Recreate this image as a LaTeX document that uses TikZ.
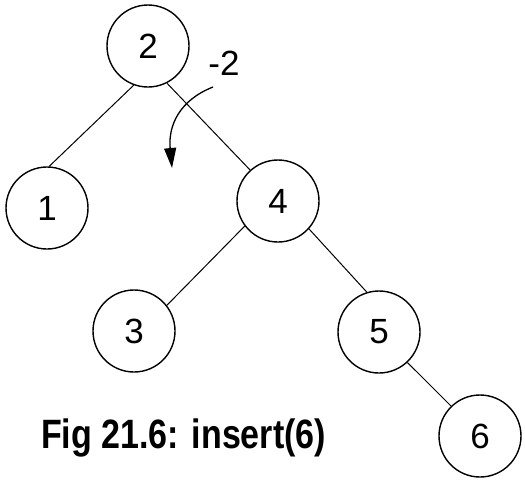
\documentclass[tikz,border=0pt]{standalone}
\usepackage{fontspec}
\setmainfont{Liberation Sans}
\usepackage{tikz}
\usetikzlibrary{arrows.meta, positioning}

\tikzset{
    treenode/.style={circle, draw, line width=1.4pt, minimum size=82pt, inner sep=0pt,
        font=\fontsize{35}{35}\selectfont},
    treeedge/.style={line width=1pt}
}

\begin{document}
\begin{tikzpicture}[x=1pt, y=-1pt]
        \useasboundingbox (0,0) rectangle (525,480);

        % Tree nodes
        \node[treenode] (n2) at (148,46) {2};
        \node[treenode] (n1) at (47,208) {1};
        \node[treenode] (n4) at (278,201) {4};
        \node[treenode] (n3) at (134,331) {3};
        \node[treenode] (n5) at (379,332) {5};
        \node[treenode] (n6) at (480,436) {6};

        % Edges
        \draw[treeedge] (n2.250) -- (n1.87);
        \draw[treeedge] (n2.297) -- (n4.132);
        \draw[treeedge] (n4.217) -- (n3.38);
        \draw[treeedge] (n4.318) -- (n5.107);
        \draw[treeedge] (n5.313) -- (n6.134);

        % Balance factor and rotation arrow
        \node[font=\fontsize{35}{35}\selectfont] (bal) at (224,63) {-2};
        \coordinate (rotStart) at (213,87);
        \coordinate (rotEnd) at (172,168);
        \draw[line width=1.3pt, -{Triangle[length=20pt, width=12pt]}]
            (rotStart) .. controls (180,100) and (168,125) .. (rotEnd);

        % Caption
        \node[anchor=base west, inner sep=0pt, xscale=0.83,
            font=\fontsize{41}{41}\selectfont\bfseries] (cap) at (41,448) {Fig 21.6: insert(6)};
\end{tikzpicture}
\end{document}
